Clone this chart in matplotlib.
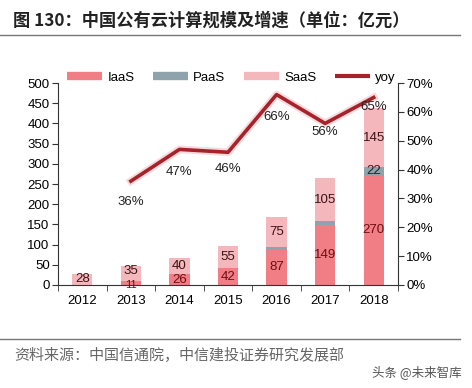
import matplotlib.pyplot as plt
import matplotlib.patheffects as pe
from matplotlib.lines import Line2D
from matplotlib.ticker import FuncFormatter

plt.rcParams['font.family'] = ['Liberation Sans', 'Noto Sans CJK SC', 'DejaVu Sans']

years = ['2012', '2013', '2014', '2015', '2016', '2017', '2018']
iaas = [0, 11, 26, 42, 87, 149, 270]
paas = [0, 0, 0, 0, 7, 10, 22]
saas = [28, 35, 40, 55, 75, 105, 145]
yoy_years = [1, 2, 3, 4, 5, 6]
yoy = [0.36, 0.47, 0.46, 0.66, 0.56, 0.65]
yoy_text = ['36%', '47%', '46%', '66%', '56%', '65%']

c_iaas = '#F07E84'
c_paas = '#8FA3AD'
c_saas = '#F4B7BC'
c_yoy = '#A6232B'

fig = plt.figure(figsize=(4.72, 3.88), dpi=100)
ax = fig.add_axes([0.1229, 0.2655, 0.7203, 0.5205])

x = list(range(len(years)))
w = 0.42
ax.bar(x, iaas, w, color=c_iaas, zorder=2)
ax.bar(x, paas, w, bottom=iaas, color=c_paas, zorder=2)
bot2 = [a + b for a, b in zip(iaas, paas)]
ax.bar(x, saas, w, bottom=bot2, color=c_saas, zorder=2)

# bar labels (small segments get nudged apart a little)
for i in x:
    if iaas[i] > 0:
        small = iaas[i] < 20
        ax.annotate(str(iaas[i]), (i, iaas[i] / 2), xytext=(0, -1.5 if small else 0),
                    textcoords='offset points', ha='center', va='center',
                    fontsize=8 if small else 9.5, color='#6E0D14', zorder=4)
    if paas[i] >= 15:
        ax.text(i, iaas[i] + paas[i] / 2, str(paas[i]), ha='center', va='center',
                fontsize=9.5, color='#222222', zorder=4)
    up = 2 if 0 < iaas[i] < 20 else 0
    ax.annotate(str(saas[i]), (i, bot2[i] + saas[i] / 2), xytext=(0, up),
                textcoords='offset points', ha='center', va='center',
                fontsize=9.5, color='#3A1416', zorder=4)

ax.set_xlim(-0.5, 6.5)
ax.set_ylim(0, 500)
ax.set_yticks(range(0, 501, 50))
ax.set_xticks(x)
ax.set_xticklabels(years)
ax.set_xticks([i - 0.5 for i in range(8)], minor=True)
ax.tick_params(axis='x', which='major', length=0, pad=7, labelsize=9.5)
ax.tick_params(axis='x', which='minor', length=4, direction='out', color='#333333')
ax.tick_params(axis='y', length=4, direction='out', labelsize=9.5, pad=2, color='#333333')
for s in ['top', 'right']:
    ax.spines[s].set_visible(False)
ax.spines['left'].set_color('#333333')
ax.spines['bottom'].set_color('#333333')

ax2 = ax.twinx()
ax2.set_ylim(0, 0.7)
ax2.set_yticks([i / 10 for i in range(8)])
ax2.yaxis.set_major_formatter(FuncFormatter(lambda v, p: '%d%%' % round(v * 100)))
ax2.tick_params(axis='y', length=4, direction='out', labelsize=9.5, pad=2, color='#333333')
for s in ['top', 'left', 'bottom']:
    ax2.spines[s].set_visible(False)
ax2.spines['right'].set_color('#333333')

ax2.plot(yoy_years, yoy, color=c_yoy, lw=2.6, zorder=5,
         path_effects=[pe.Stroke(linewidth=5.5, foreground='#F6C2C5', alpha=0.6), pe.Normal()])
offsets = [15, 16, 12, 16, 6, 7]
for xi, v, t, off in zip(yoy_years, yoy, yoy_text, offsets):
    ax2.annotate(t, (xi, v), xytext=(0, -off), textcoords='offset points',
                 ha='center', va='center', fontsize=9.5, color='#222222', zorder=6)

handles = [Line2D([0], [0], color=c_iaas, lw=6, solid_capstyle='butt'),
           Line2D([0], [0], color=c_paas, lw=6, solid_capstyle='butt'),
           Line2D([0], [0], color=c_saas, lw=6, solid_capstyle='butt'),
           Line2D([0], [0], color=c_yoy, lw=3, solid_capstyle='butt')]
fig.legend(handles, ['IaaS', 'PaaS', 'SaaS', 'yoy'], loc='center', ncol=4,
           bbox_to_anchor=(0.49, 0.799), frameon=False, fontsize=9.5,
           handlelength=2.65, handletextpad=0.4, columnspacing=1.4)

fig.text(0.028, 0.948, '图 130：中国公有云计算规模及增速（单位：亿元）',
         family=['Noto Sans CJK SC', 'DejaVu Sans'], fontsize=12.4, fontweight='bold',
         color='#222222', ha='left', va='center')
fig.add_artist(Line2D([0.0, 0.975], [0.909, 0.909], color='#777777', lw=1))
fig.add_artist(Line2D([0.0, 0.975], [0.126, 0.126], color='#777777', lw=1))
fig.text(0.03, 0.085, '资料来源：中国信通院，中信建投证券研究发展部',
         family=['Noto Sans CJK SC', 'DejaVu Sans'], fontsize=10.8, color='#666666',
         ha='left', va='center')
fig.text(0.978, 0.041, '头条 @未来智库', family=['Noto Sans CJK SC', 'DejaVu Sans'],
         fontsize=9, color='#555555', ha='right', va='center')

fig.savefig('out.png', dpi=100)
